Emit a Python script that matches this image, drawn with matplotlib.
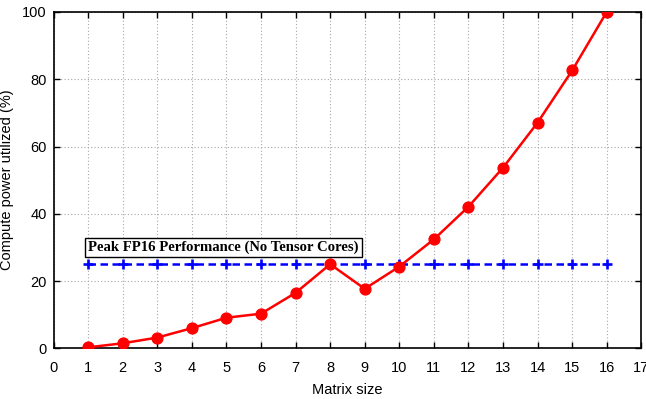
import matplotlib
matplotlib.use("Agg")
import matplotlib.pyplot as plt

# Compute utilization by matrix size
matrix_sizes = [1, 2, 3, 4, 5, 6, 7, 8, 9, 10, 11, 12, 13, 14, 15, 16]
utilization = [0.3, 1.5, 3.2, 6.0, 9.1, 10.3, 16.5, 25.0, 17.7, 24.3, 32.4, 42.1, 53.7, 67.1, 82.6, 100.0]
peak_fp16 = [25.0] * len(matrix_sizes)
peak_label = "Peak FP16 Performance (No Tensor Cores)"

x_ticks = list(range(0, 18))
y_ticks = [0, 20, 40, 60, 80, 100]

plt.rcParams["font.family"] = ["Liberation Sans", "DejaVu Sans"]

fig = plt.figure(figsize=(6.46, 3.99), dpi=100)
ax = fig.add_axes([0.083, 0.127, 0.9097, 0.843])

ax.plot(matrix_sizes, peak_fp16, color="#0000ff", linestyle=(0, (3.0, 1.8)), linewidth=1.8,
        marker="+", markersize=7, markeredgewidth=1.9, zorder=3)
ax.plot(matrix_sizes, utilization, color="#ff0000", linewidth=1.8,
        marker="o", markersize=7.8, zorder=4)

ax.text(1.0, 30.0, peak_label, family=["Liberation Serif", "DejaVu Serif"], fontweight="bold",
        fontsize=10.6, ha="left", va="center",
        bbox=dict(boxstyle="square,pad=0.2", facecolor="white", edgecolor="black", linewidth=1.0),
        zorder=5)

ax.set_xlim(0, 17)
ax.set_ylim(0, 100)
ax.set_xticks(x_ticks)
ax.set_yticks(y_ticks)
ax.grid(True, color="#a8a8a8", linestyle=(0, (1, 2)), linewidth=0.8)
ax.set_axisbelow(True)

ax.tick_params(axis="both", which="both", direction="in", top=True, right=True,
               length=4, width=1.0, labelsize=10.5)
ax.tick_params(axis="x", pad=9)
ax.tick_params(axis="y", pad=5)
for side in ax.spines.values():
    side.set_linewidth(1.2)

ax.set_xlabel("Matrix size", fontsize=10.5, labelpad=6)
ax.set_ylabel("Compute power utilized (%)", fontsize=10.5, labelpad=6)

fig.savefig("out.png", dpi=100)
